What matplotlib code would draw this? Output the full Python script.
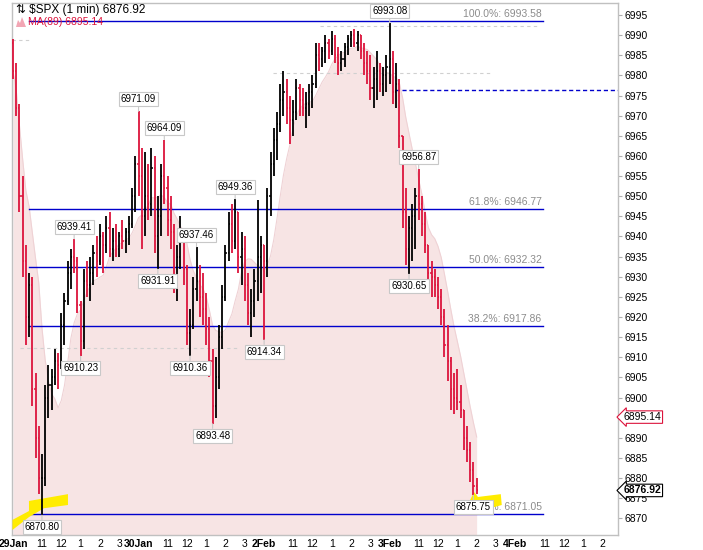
import numpy as np
import pandas as pd
import matplotlib
matplotlib.use('Agg')
import matplotlib.pyplot as plt
from matplotlib.patches import Polygon
import matplotlib.transforms as mtrans

plt.rcParams['font.family'] = ['Liberation Sans', 'DejaVu Sans']

# $SPX bars, 10 minutes apart (session minutes from 29 Jan 9:30)
bar_step = 10
first_open = 6988.0
hi = [6989, 6983, 6973, 6955, 6938, 6931, 6930, 6906, 6893, 6886,
      6903, 6908, 6907, 6912, 6911, 6921, 6926, 6934, 6937, 6939.41,
      6935, 6924, 6932, 6934, 6935, 6938, 6940, 6943, 6941, 6945,
      6946, 6942, 6943, 6941, 6944, 6942, 6945, 6952, 6960, 6971.09,
      6962, 6961, 6958, 6962, 6960, 6950, 6958, 6964.09, 6955, 6950,
      6943, 6938, 6945, 6942, 6933, 6922, 6930, 6937.46, 6933, 6931,
      6926, 6920, 6912, 6910, 6918, 6928, 6938, 6946, 6948, 6949.36,
      6946, 6941, 6940, 6931, 6927, 6932, 6949, 6940, 6938, 6952,
      6961, 6967, 6971, 6978, 6981, 6979, 6975, 6974, 6979, 6978,
      6977, 6976, 6978, 6980, 6988, 6988, 6987, 6990, 6989, 6991,
      6990, 6987, 6986, 6988, 6990, 6991, 6991.5, 6991, 6990, 6988,
      6986, 6985, 6982, 6986, 6983, 6982, 6985, 6993.08, 6986, 6983,
      6979, 6965, 6952, 6945, 6948, 6952, 6956.87, 6950, 6946, 6938,
      6934, 6932, 6930, 6927, 6922, 6918, 6910, 6906, 6907, 6903,
      6897, 6893, 6889, 6884, 6880]
lo = [6979, 6970, 6946, 6930, 6913, 6915, 6898, 6885, 6876, 6870.80,
      6878, 6895, 6897, 6903, 6902, 6907, 6913, 6923, 6927, 6931,
      6921, 6910.23, 6912, 6925, 6924, 6928, 6930, 6933, 6931, 6936,
      6935, 6934, 6935, 6935, 6937, 6936, 6938, 6942, 6946, 6950,
      6937, 6940, 6944, 6945, 6936, 6931.91, 6940, 6948, 6940, 6937,
      6926, 6924, 6932, 6928, 6913, 6910.36, 6917, 6924, 6920, 6918,
      6913, 6905, 6893.48, 6895, 6902, 6912, 6924, 6934, 6936, 6937,
      6931, 6928, 6924, 6918, 6915, 6920, 6924, 6926, 6914.34, 6930,
      6945, 6955, 6959, 6966, 6970, 6968, 6963, 6965, 6969, 6970,
      6970, 6967, 6970, 6972, 6977, 6981, 6982, 6983, 6984, 6985,
      6983, 6980, 6981, 6982, 6985, 6987, 6987, 6986, 6984, 6980,
      6978, 6974, 6972, 6974, 6976, 6975, 6976, 6978, 6973, 6972,
      6962, 6942, 6933, 6930.65, 6934, 6937, 6944, 6940, 6936, 6927,
      6925, 6925, 6922, 6918, 6910, 6904, 6897, 6896, 6897, 6895,
      6887, 6884, 6879, 6875.75, 6876]
cl = [6981, 6972, 6950, 6934, 6920, 6928, 6902, 6890, 6880, 6880,
      6900, 6903, 6905, 6909, 6908, 6918, 6924, 6931, 6935, 6934,
      6923, 6914, 6929, 6928, 6931, 6936, 6934, 6940, 6938, 6942,
      6937, 6939, 6937, 6940, 6939, 6941, 6943, 6950, 6958, 6955,
      6945, 6950, 6948, 6957, 6940, 6945, 6955, 6952, 6944, 6941,
      6930, 6935, 6940, 6932, 6916, 6918, 6927, 6929, 6925, 6922,
      6917, 6909, 6898, 6905, 6915, 6925, 6936, 6943, 6939, 6946,
      6935, 6937, 6928, 6921, 6924, 6929, 6935, 6938, 6934, 6950,
      6958, 6964, 6968, 6974, 6976, 6972, 6969, 6971, 6977, 6974,
      6972, 6973, 6976, 6978, 6985, 6984, 6986, 6988, 6986, 6989,
      6985, 6983, 6984, 6987, 6989, 6990, 6988, 6990, 6986, 6983,
      6981, 6977, 6979, 6981, 6978, 6980, 6982, 6984, 6976, 6978,
      6965, 6946, 6937, 6942, 6945, 6950, 6948, 6943, 6938, 6931,
      6930, 6928, 6925, 6920, 6913, 6909, 6902, 6900, 6899, 6897,
      6890, 6887, 6882, 6878, 6876.92]

# labelled swing highs / lows (bar index)
swing_highs = [19, 39, 47, 57, 69, 117, 126]
swing_lows = [9, 21, 45, 55, 62, 78, 123, 143]

# fibonacci retracement
fib_pct = ['100.0%', '61.8%', '50.0%', '38.2%', '0.0%']
fib_val = [6993.58, 6946.77, 6932.32, 6917.86, 6871.05]
fib_span = (50, 1646)

dash_level = 6976.4
gray_levels = [(6988.8, -3, 53), (6992.3, 953, 1630), (6980.7, 807, 1491), (6912.3, 22, 705)]

last_price = 6876.92
ma_last = 6895.14

day_names = ['29Jan', '30Jan', '2Feb', '3Feb', '4Feb']
hour_names = ['11', '12', '1', '2', '3']
hour_offsets = [90, 150, 210, 270, 330]
session_len = 390

crimson = '#dc143c'
blue = '#0000cc'

op = [first_open] + cl[:-1]
t = np.arange(len(cl)) * bar_step
ma = pd.Series(cl).rolling(9, min_periods=1).mean()

fig = plt.figure(figsize=(7.03, 5.5), dpi=100)
ax = fig.add_axes([12 / 703, 15 / 550, 606 / 703, 532 / 550])
ax.set_xlim(-3, 1879)
ax.set_ylim(6865.85, 6998)
ybot = ax.get_ylim()[0]

# MA(89) mountain
ax.fill_between(t, ma, ybot, color='#f7e4e4', lw=0, zorder=1)
ax.plot(t, ma, color='#efd2d5', lw=0.8, zorder=1)

for lev, x0, x1 in gray_levels:
    ax.plot([x0, x1], [lev, lev], color='#d0d0d0', lw=0.8, ls=(0, (3, 3)), zorder=2)

for v in fib_val:
    ax.plot(fib_span, [v, v], color=blue, lw=1.0, zorder=2)
for p, v in zip(fib_pct, fib_val):
    ax.annotate(f'{p}: {v:.2f}', xy=(fib_span[1], v), xytext=(-1, 1.5),
                textcoords='offset points', ha='right', va='bottom',
                fontsize=7.5, color='#8c8c8c', zorder=3)

ax.plot([t[117] + 15, 1879], [dash_level, dash_level], color=blue, lw=1.0,
        ls=(0, (3, 2)), zorder=2)

# yellow highlighter strokes
hl1 = [(-1.6, 6867.1), (-1.6, 6869.6), (49.7, 6871.8), (49.7, 6874.3),
       (170.8, 6876.0), (170.8, 6873.3), (96.3, 6872.5), (49.7, 6870.3)]
hl2 = [(1407, 6872.5), (1432, 6876.5), (1444, 6875.3), (1515, 6876.0),
       (1518, 6873.3), (1419, 6871.1)]
for pts in (hl1, hl2):
    ax.add_patch(Polygon(pts, closed=True, fc='#ffec00', ec='none', zorder=3))

# OHLC bars
colors = ['black' if c >= o else crimson for o, c in zip(op, cl)]
ax.vlines(t, lo, hi, colors=colors, lw=1.3, zorder=4)
ax.hlines(op, t - 3.5, t, colors=colors, lw=1.1, zorder=4)
ax.hlines(cl, t, t + 3.5, colors=colors, lw=1.1, zorder=4)

box = dict(boxstyle='square,pad=0.2', fc='white', ec='#c8c8c8', lw=0.8)
arrow = dict(arrowstyle='-', color='#c8c8c8', lw=0.8, shrinkA=0, shrinkB=0)
for i in swing_highs:
    ax.annotate(f'{hi[i]:.2f}', xy=(t[i], hi[i]), xytext=(0, 5), textcoords='offset points',
                ha='center', va='bottom', fontsize=7, bbox=box, arrowprops=arrow, zorder=6)
for i in swing_lows:
    ax.annotate(f'{lo[i]:.2f}', xy=(t[i], lo[i]), xytext=(0, -5), textcoords='offset points',
                ha='center', va='top', fontsize=7, bbox=box, arrowprops=arrow, zorder=6)

# axes styling
for s in ax.spines.values():
    s.set_color('#c0c0c0')
    s.set_linewidth(1.0)
ax.yaxis.tick_right()
ax.set_yticks(np.arange(6870, 7000, 5))
ax.tick_params(axis='y', length=3, color='#b0b0b0', labelsize=7.5, pad=1.5)

xt, xl = [], []
for d, name in enumerate(day_names):
    xt.append(d * session_len)
    xl.append(name)
    for h, off in zip(hour_names, hour_offsets):
        pos = d * session_len + off
        if pos < 1879:
            xt.append(pos)
            xl.append(h)
ax.set_xticks(xt, xl)
ax.tick_params(axis='x', length=0, pad=3, labelsize=7.5)
for lab in ax.get_xticklabels():
    if lab.get_text() in day_names:
        lab.set_fontweight('bold')

# price flags on the right axis
trans = mtrans.blended_transform_factory(ax.transAxes, ax.transData)
ax.annotate(f'{ma_last:.2f}', xy=(1, ma_last), xycoords=trans, xytext=(4, 0),
            textcoords='offset points', ha='left', va='center', fontsize=7.5,
            bbox=dict(boxstyle='larrow,pad=0.12', fc='white', ec=crimson, lw=0.8),
            annotation_clip=False, zorder=7)
ax.annotate(f'{last_price:.2f}', xy=(1, last_price), xycoords=trans, xytext=(4, 0),
            textcoords='offset points', ha='left', va='center', fontsize=7.5,
            fontweight='bold',
            bbox=dict(boxstyle='larrow,pad=0.12', fc='white', ec='black', lw=0.8),
            annotation_clip=False, zorder=7)

# header legend
fig.text(16 / 703, 1 - 10.5 / 550, f'\u21c5 $SPX (1 min) {last_price:.2f}', fontsize=8.5,
         va='center', ha='left', color='black', zorder=8)
fig.text(28 / 703, 1 - 22 / 550, f'MA(89) {ma_last:.2f}', fontsize=7.5,
         va='center', ha='left', color=crimson, zorder=8)
icon = [(16, 27), (18, 20), (20, 23), (22, 17), (24, 22), (26, 27)]
fig.patches.append(Polygon([(x / 703, 1 - y / 550) for x, y in icon], closed=True,
                           fc='#f2a6b4', ec='none', transform=fig.transFigure, figure=fig))

fig.savefig('out.png', dpi=100)
